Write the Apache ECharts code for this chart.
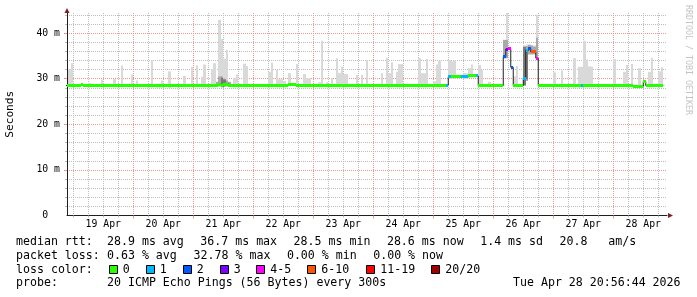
<!DOCTYPE html>
<html><head><meta charset="utf-8">
<script src="https://cdn.jsdelivr.net/npm/echarts@6/dist/echarts.min.js"></script>
<style>html,body{margin:0;padding:0;background:#fff}#c{width:697px;height:297px}</style>
</head><body><div id="c"></div>
<script>
// ===== data (time in hours since 18 Apr 00:00, values in ms) =====
const startHour = 21.5, endHour = 261.5;
const dayLabels = ['19 Apr','20 Apr','21 Apr','22 Apr','23 Apr','24 Apr','25 Apr','26 Apr','27 Apr','28 Apr'];
const dayLabelHours = [36,60,84,108,132,156,180,204,228,252];
const yLabelValues = [0,10,20,30,40];
const yMax = 44.4;

const lossColors = ['#26ff00','#00b8ff','#0059ff','#7e00ff','#ff00ff','#ff5500','#ff0000','#a10000'];
const lossLabels = ['0','1','2','3','4-5','6-10','11-19','20/20'];

// median rtt, hourly bins given as segments
const medSegStart = [21,27,28,37,40,54,63,82,83,84,86,110,113,173,174,175,179,182,185,186,196,197,198,199,200,204,205,206,207,209,210,217,227,228,248,252,253];
const medSegEnd   = [27,28,37,40,54,63,82,83,84,86,110,113,173,174,175,179,182,185,186,196,197,198,199,200,204,205,206,207,209,210,217,227,228,248,252,253,260];
const medSegValue = [28.5,28.7,28.5,28.6,28.5,28.4,28.5,28.7,28.4,28.8,28.5,28.7,28.5,28.6,30.4,30.4,30.4,30.6,30.6,28.5,34.8,36.5,36.6,32.5,28.5,30.1,36.2,36.6,35.9,34.5,28.5,28.4,28.4,28.5,28.3,29.4,28.5];
const medSegLoss  = [0,0,0,0,0,0,0,0,0,0,0,0,0,1,1,0,1,0,1,0,2,3,4,2,0,1,1,2,5,4,0,0,1,0,0,0,0];

// smoke: [hour, top]
const smokeLight = [[22,32.1],[23,33.4],[30,29.1],[35,29.8],[40,29.9],[43,32.9],[47,30.9],[49,29.6],[55,34.0],[57,28.9],[58,28.9],[59,29.6],[62,31.6],[68,30.6],[71,32.6],[73,32.9],[75,30.4],[76,33.1],[79,32.0],[80,33.4],[82,42.9],[83,38.7],[84,34.4],[85,36.3],[88,30.2],[89,30.9],[92,33.3],[93,32.8],[102,31.5],[103,33.5],[105,31.9],[106,29.9],[107,29.9],[108,29.5],[110,31.2],[113,33.2],[116,31.0],[117,30.1],[118,30.1],[122,29.2],[123,38.3],[125,29.2],[127,30.1],[129,34.5],[130,31.2],[131,32.6],[132,31.0],[133,31.0],[137,30.8],[139,30.8],[141,34.1],[147,31.2],[149,34.6],[150,31.2],[151,33.6],[153,31.5],[154,33.2],[155,33.2],[162,34.5],[163,31.2],[164,31.2],[165,34.3],[168,29.4],[169,33.1],[170,33.9],[174,34.1],[175,33.8],[176,34.0],[180,31.2],[181,31.2],[182,32.3],[183,33.1],[186,33.0],[187,31.9],[190,29.3],[196,38.5],[197,44.4],[200,30.5],[201,32.8],[204,37.3],[205,37.5],[206,37.5],[207,37.4],[208,37.3],[209,44.0],[216,31.4],[219,31.8],[224,34.5],[226,32.6],[227,32.6],[228,38.3],[229,34.2],[230,32.7],[231,32.6],[240,34.3],[244,31.5],[245,33.0],[247,33.2],[250,32.3],[254,31.5],[255,34.6],[258,31.6],[259,32.5]];
// [hour, bottom, top]
const smokeMid = [[81,28.3,29.3],[82,28.3,30.5],[83,28.3,30.5],[84,28.3,30.0],[85,28.3,29.6],[86,28.3,29.3],[196,34.5,38.5],[197,34.5,38.5],[205,29.5,37.1],[206,35.3,37.4],[207,35.3,37.2],[208,35.3,37.0],[209,34.3,39.0]];
const smokeDark = [[83,28.3,30.2],[84,28.3,29.8],[204,28.5,37.0],[205,29.8,36.5]];

// ===== build =====
const median = {}, loss = {};
medSegStart.forEach((s, i) => { for (let k = s; k < medSegEnd[i]; k++) { median[k] = medSegValue[i]; loss[k] = medSegLoss[i]; } });
const bins = Object.keys(median).map(Number).sort((a, b) => a - b);
const lastBin = bins[bins.length - 1];
const medianLine = bins.map(k => [k, median[k]]);
medianLine.push([lastBin + 1, median[lastBin]]);
const bandData = bins.map(k => [k, k + 1, median[k], loss[k]]);
const lightData = smokeLight.map(([k, t]) => [k, k + 1, median[k] - 0.4, t]);
const midData = smokeMid.map(([k, b, t]) => [k, k + 1, b, t]);
const darkData = smokeDark.map(([k, b, t]) => [k, k + 1, b, t]);

const minorX = [], majorX = [];
for (let h = 24; h < endHour; h += 6) { (h % 24 === 0 && h !== 24) ? majorX.push(h) : minorX.push(h); }
const minorY = [], majorY = [];
for (let v = 2; v < yMax; v += 2) { (v % 10 === 0) ? majorY.push(v) : minorY.push(v); }

const FONT = '"DejaVu Sans Mono", monospace';
const GRID = '#bdbdbd';
const MGRID = '#eb9595';
const AXIS = '#1f1f1f';
const ARROW = '#7f1f1f';

function rectRender(color) {
  return function (params, api) {
    const cs = params.coordSys;
    const a = api.coord([api.value(0), api.value(3)]);
    const b = api.coord([api.value(1), api.value(2)]);
    const x0 = Math.max(Math.round(a[0]), cs.x), x1 = Math.min(Math.round(b[0]), cs.x + cs.width);
    const y0 = Math.max(a[1], cs.y), y1 = b[1];
    if (x1 <= x0) return { type: 'group', children: [] };
    return { type: 'rect', shape: { x: x0, y: y0, width: x1 - x0, height: y1 - y0 }, style: { fill: color } };
  };
}
function bandRender(params, api) {
  const cs = params.coordSys;
  const a = api.coord([api.value(0), api.value(2)]);
  const b = api.coord([api.value(1), api.value(2)]);
  const x0 = Math.max(Math.round(a[0]), cs.x), x1 = Math.min(Math.round(b[0]), cs.x + cs.width);
  if (x1 <= x0) return { type: 'group', children: [] };
  const y0 = Math.round(a[1] - 1.5);
  return { type: 'rect', shape: { x: x0, y: y0, width: x1 - x0, height: 3 }, style: { fill: lossColors[api.value(3)] } };
}

function gridAxisX(values, color, len) {
  return { type: 'value', min: startHour, max: endHour, position: 'bottom',
    axisLine: { show: false }, axisLabel: { show: false },
    axisTick: { show: true, customValues: values, length: len, lineStyle: { color: color } },
    splitLine: { show: true, lineStyle: { color: color, width: 1, type: [1, 1] } } };
}
function gridAxisY(values, color, len) {
  return { type: 'value', min: 0, max: yMax, position: 'left',
    axisLine: { show: false }, axisLabel: { show: false },
    axisTick: { show: true, customValues: values, length: len, lineStyle: { color: color } },
    splitLine: { show: true, lineStyle: { color: color, width: 1, type: [1, 1] } } };
}

// legend layout
const legendLines = [
  { y: 241.5, parts: [['median rtt:', 16], ['28.9 ms avg', 107], ['36.7 ms max', 200.3], ['28.5 ms min', 293.6], ['28.6 ms now', 386.9], ['1.4 ms sd', 480.2], ['20.8   am/s', 559.5]] },
  { y: 255.5, parts: [['packet loss:', 16], ['0.63 % avg', 107], ['32.78 % max', 193.6], ['0.00 % min', 286.9], ['0.00 % now', 373.2]] },
  { y: 269.5, parts: [['loss color:', 16]] },
  { y: 283, parts: [['probe:', 16], ['20 ICMP Echo Pings (56 Bytes) every 300s', 107], ['Tue Apr 28 20:56:44 2026', 513]] }
];
const swatchX = [108.5, 145.5, 182.5, 219.5, 256, 307, 366, 431];
const graphic = [];
legendLines.forEach(l => l.parts.forEach(([t, x]) => graphic.push({ type: 'text', x: x, y: l.y,
  style: { text: t, font: '11.6px ' + FONT, fill: '#000', verticalAlign: 'middle', align: 'left' } })));
swatchX.forEach((x, i) => {
  const xs = Math.round(x) + 0.5;
  graphic.push({ type: 'rect', shape: { x: xs, y: 265.5, width: 8, height: 8 }, style: { fill: lossColors[i], stroke: '#000', lineWidth: 1 } });
  graphic.push({ type: 'text', x: x + 14.3, y: 269.5, style: { text: lossLabels[i], font: '11.6px ' + FONT, fill: '#000', verticalAlign: 'middle' } });
});
graphic.push({ type: 'text', x: 688, y: 60, rotation: -Math.PI / 2,
  style: { text: 'RRDTOOL / TOBI OETIKER', font: '8.3px ' + FONT, fill: '#c4c4c4', align: 'center', verticalAlign: 'middle' } });

const option = {
  animation: false,
  backgroundColor: '#ffffff',
  grid: { left: 67, top: 13, width: 600, height: 202.5, containLabel: false, outerBoundsMode: 'none' },
  xAxis: [
    { type: 'value', min: startHour, max: endHour, position: 'bottom',
      axisLine: { show: true, onZero: false, lineStyle: { color: AXIS, width: 1 } },
      axisTick: { show: false }, axisLabel: { show: false }, splitLine: { show: false } },
    gridAxisX(minorX, GRID, 2),
    gridAxisX(majorX, MGRID, 3),
    { type: 'value', min: startHour, max: endHour, position: 'bottom',
      axisLine: { show: true, onZero: false, symbol: ['none', 'triangle'], symbolSize: [5, 5], symbolOffset: [0, 3.5], lineStyle: { color: ARROW, width: 0 } },
      axisTick: { show: false }, splitLine: { show: false },
      axisLabel: { show: true, customValues: dayLabelHours, margin: 4, fontFamily: FONT, fontSize: 9.8, color: '#000',
        formatter: v => dayLabels[dayLabelHours.indexOf(v)] || '' } }
  ],
  yAxis: [
    { type: 'value', min: 0, max: yMax, position: 'left',
      axisLine: { show: true, onZero: false, lineStyle: { color: AXIS, width: 1 } },
      axisTick: { show: false }, splitLine: { show: false },
      axisLabel: { show: true, customValues: yLabelValues, margin: 7, fontFamily: FONT, fontSize: 9.8, color: '#000',
        formatter: v => v === 0 ? '0  ' : (v + ' m') },
      name: 'Seconds', nameLocation: 'middle', nameGap: 51, nameRotate: 90,
      nameTextStyle: { fontFamily: FONT, fontSize: 11.2, color: '#000' } },
    gridAxisY(minorY, GRID, 2),
    gridAxisY(majorY, MGRID, 3),
    { type: 'value', min: 0, max: yMax, position: 'left',
      axisLine: { show: true, onZero: false, symbol: ['none', 'triangle'], symbolSize: [5, 5], symbolOffset: [0, 2.5], lineStyle: { color: ARROW, width: 0 } },
      axisTick: { show: false }, axisLabel: { show: false }, splitLine: { show: false } }
  ],
  series: [
    { type: 'custom', name: 'smoke', z: 2, data: lightData, encode: { x: [0, 1], y: [2, 3] }, renderItem: rectRender('#d9d9d9') },
    { type: 'custom', name: 'smoke2', z: 2, data: midData, encode: { x: [0, 1], y: [2, 3] }, renderItem: rectRender('#a9a9a9') },
    { type: 'custom', name: 'smoke3', z: 2, data: darkData, encode: { x: [0, 1], y: [2, 3] }, renderItem: rectRender('#7a7a7a') },
    { type: 'line', name: 'median', z: 3, data: medianLine, step: 'end', showSymbol: false, symbol: 'none',
      lineStyle: { color: '#202020', width: 1 }, clip: true },
    { type: 'custom', name: 'loss', z: 4, data: bandData, encode: { x: [0, 1], y: 2 }, renderItem: bandRender }
  ],
  graphic: graphic
};
const chart = echarts.init(document.getElementById('c'));
chart.setOption(option);
</script>
</body></html>
